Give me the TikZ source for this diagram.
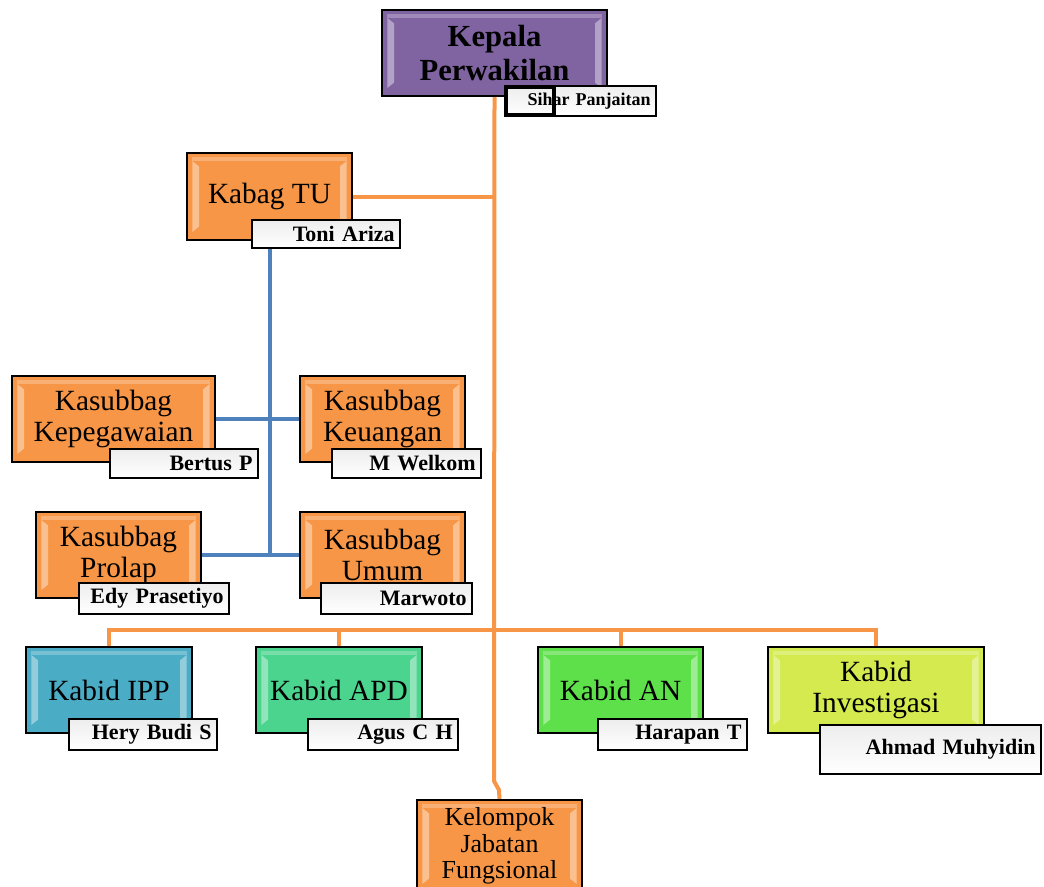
\documentclass[tikz,border=0pt]{standalone}
\usepackage{fontspec}
\setmainfont{Liberation Serif}
\usetikzlibrary{positioning, shadows, backgrounds}
\definecolor{kpurple}{HTML}{8064A2}
\definecolor{korange}{HTML}{F79646}
\definecolor{kblue}{HTML}{4F81BD}
\definecolor{kteal}{HTML}{4BACC6}
\definecolor{kmint}{HTML}{4AD48E}
\definecolor{klime}{HTML}{5EE04B}
\definecolor{kyellow}{HTML}{D4EA4E}

\begin{document}
\begin{tikzpicture}[x=0.75pt, y=-0.75pt,
  wh/.style 2 args={minimum width=#1*0.75pt, minimum height=#2*0.75pt},
  bevel/.style={path picture={
    \fill[white, opacity=0.4] ([xshift=4pt, yshift=-6pt]path picture bounding box.north west) -- ++(5pt,-4pt)
      -- ([xshift=9pt, yshift=10pt]path picture bounding box.south west) -- ++(-5pt,-4pt) -- cycle;
    \fill[white, opacity=0.4] ([xshift=-4pt, yshift=-6pt]path picture bounding box.north east) -- ++(-5pt,-4pt)
      -- ([xshift=-9pt, yshift=10pt]path picture bounding box.south east) -- ++(5pt,-4pt) -- cycle;
    \fill[white, opacity=0.25] ([xshift=4pt, yshift=-3pt]path picture bounding box.north west) rectangle ([xshift=-4pt, yshift=-6pt]path picture bounding box.north east);
  }},
  post/.style={rectangle, draw=black, line width=1.2pt, inner sep=2pt, align=center,
    font=\fontsize{22}{23}\selectfont, bevel,
    drop shadow={opacity=0.35, shadow xshift=1pt, shadow yshift=-1pt}},
  person/.style 2 args={rectangle, draw=black, line width=1.1pt, top color=black!7, bottom color=white,
    inner xsep=4pt, inner ysep=1pt, align=right, wh={#1}{#2}, text width=#1*0.75pt-8pt,
    font=\fontsize{16.5}{18}\selectfont\bfseries,
    drop shadow={opacity=0.3, shadow xshift=1pt, shadow yshift=-1pt}},
  orgline/.style={korange, line width=3pt},
  subline/.style={kblue, line width=3pt},
]
\useasboundingbox (0,0) rectangle (1044,886);

% head
\node[post, fill=kpurple, wh={225}{86}, font=\fontsize{23}{25}\selectfont\bfseries] (kepala) at (494.5,53) {Kepala\\Perwakilan};
\node[person={151}{30}, font=\fontsize{13.5}{15}\selectfont\bfseries] (sihar) at (580.5,101) {Sihar Panjaitan};
\node[draw=black, line width=3pt, wh={48}{28}] (sel) at (530,101) {};

% tata usaha
\node[post, fill=korange, wh={165}{87}] (kabag) at (269.5,196.5) {Kabag TU};
\node[person={148}{28}] (toni) at (326,234) {Toni Ariza};

\node[post, fill=korange, wh={203}{86}] (kepeg) at (113.5,419) {Kasubbag\\Kepegawaian};
\node[person={148}{29}] (bertus) at (184,463.5) {Bertus P};
\node[post, fill=korange, wh={165}{86}] (keuangan) at (382.5,419) {Kasubbag\\Keuangan};
\node[person={149}{29}] (welkom) at (406.5,463.5) {M Welkom};
\node[post, fill=korange, wh={165}{86}] (prolap) at (118.5,555) {Kasubbag\\Prolap};
\node[person={150}{31}] (edy) at (154,598.5) {Edy Prasetiyo};
\node[post, fill=korange, wh={165}{86}] (umum) at (382.5,555) {Kasubbag\\Umum};
\node[person={151}{31}] (marwoto) at (396.5,598.5) {Marwoto};

% bidang
\node[post, fill=kteal, wh={166}{86}] (ipp) at (109,690) {Kabid IPP};
\node[person={148}{31}] (hery) at (143,734.5) {Hery Budi S};
\node[post, fill=kmint, wh={166}{86}] (apd) at (339,690) {Kabid APD};
\node[person={150}{31}] (agus) at (383,734.5) {Agus C H};
\node[post, fill=klime, wh={165}{86}] (an) at (620.5,690) {Kabid AN};
\node[person={149}{31}] (harapan) at (672.5,734.5) {Harapan T};
\node[post, fill=kyellow, wh={216}{86}] (inv) at (876,690) {Kabid\\Investigasi};
\node[person={221}{49}] (ahmad) at (930.5,749.5) {Ahmad Muhyidin};

% fungsional
\node[post, fill=korange, wh={165}{92}, font=\fontsize{19.5}{20}\selectfont] (kelompok) at (499.5,846) {Kelompok\\Jabatan\\Fungsional};

% connectors
\coordinate (bend1) at (494,781);
\coordinate (bend2) at (499,790);
\coordinate (bus) at (494,630);
\begin{scope}[on background layer]
\draw[orgline] (kepala.south) -- (bend1) -- (bend2) -- (kelompok.north);
\draw[orgline] (kabag.east) -- (kabag.east -| kepala.south);
\draw[orgline] (ipp.north) -- (ipp.north |- bus) -- (inv.north |- bus) -- (inv.north);
\draw[orgline] (apd.north) -- (apd.north |- bus);
\draw[orgline] (an.north) -- (an.north |- bus);
\draw[subline] (kabag.south) -- (kabag.south |- prolap.east);
\draw[subline] (kepeg.east) -- (keuangan.west);
\draw[subline] (prolap.east) -- (umum.west);
\end{scope}
\end{tikzpicture}
\end{document}
